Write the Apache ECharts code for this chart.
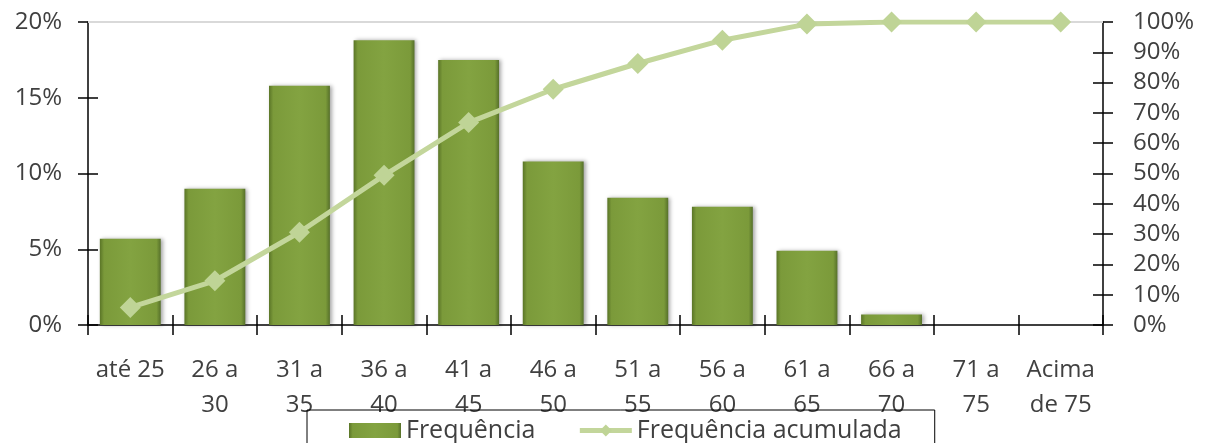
<!DOCTYPE html>
<html>
<head>
<meta charset="utf-8">
<script src="https://cdn.jsdelivr.net/npm/echarts@6/dist/echarts.min.js"></script>
<style>
html,body{margin:0;padding:0;background:#fff;}
#chart{width:1209px;height:443px;}
</style>
</head>
<body>
<div id="chart"></div>
<script>
const categories = ['até 25','26 a\n30','31 a\n35','36 a\n40','41 a\n45','46 a\n50','51 a\n55','56 a\n60','61 a\n65','66 a\n70','71 a\n75','Acima\nde 75'];
const frequencia = [5.7, 9.0, 15.8, 18.8, 17.5, 10.8, 8.4, 7.8, 4.9, 0.7, 0, 0];
const acumulada = [5.8, 14.6, 30.6, 49.4, 66.8, 77.8, 86.3, 94.0, 99.3, 100, 100, 100];
const leftTicks = {min: 0, max: 20, interval: 5};
const rightTicks = {min: 0, max: 100, interval: 10};

const FONT = '"Open Sans", "Noto Sans", sans-serif';
const TXT = '#404040';
const chart = echarts.init(document.getElementById('chart'), null, {renderer: 'canvas'});

const barGrad = new echarts.graphic.LinearGradient(0, 0, 1, 0, [
  {offset: 0, color: '#5a7527'},
  {offset: 0.07, color: '#7b9a3a'},
  {offset: 0.5, color: '#83a341'},
  {offset: 0.93, color: '#7b9a3a'},
  {offset: 1, color: '#56702a'}
]);

const axisLine = {show: true, lineStyle: {color: '#000', width: 1.5}};
chart.setOption({
  animation: false,
  backgroundColor: '#fff',
  grid: {left: 88, right: 106, top: 22, bottom: 118, containLabel: false},
  legend: {
    left: 307, top: 410,
    padding: [8, 33, 20, 42],
    borderColor: '#000', borderWidth: 1,
    itemWidth: 52, itemHeight: 15, itemGap: 42,
    textStyle: {fontFamily: FONT, fontSize: 25, color: TXT, lineHeight: 24},
    data: [
      {name: 'Frequência', icon: 'rect'},
      {name: 'Frequência acumulada', lineStyle: {width: 5, color: '#c3d69b'}}
    ]
  },
  xAxis: [{
    type: 'category', position: 'bottom', data: categories,
    axisLine: axisLine,
    axisTick: {show: true, length: 10, inside: false, lineStyle: {color: '#000', width: 1.5}},
    axisLabel: {fontFamily: FONT, fontSize: 24, color: TXT, lineHeight: 35, margin: 28, interval: 0}
  }, {
    type: 'category', position: 'bottom', data: categories,
    axisLine: {show: false},
    axisTick: {show: true, length: 10, inside: true, lineStyle: {color: '#000', width: 1.5}},
    axisLabel: {show: false}
  }],
  yAxis: [{
    type: 'value', position: 'left', min: leftTicks.min, max: leftTicks.max, interval: leftTicks.interval,
    axisLine: axisLine,
    axisTick: {show: true, length: 10, lineStyle: {color: '#000', width: 1.5}},
    splitLine: {show: false},
    axisLabel: {fontFamily: FONT, fontSize: 24, color: TXT, margin: 26, formatter: '{value}%'}
  }, {
    type: 'value', position: 'right', min: rightTicks.min, max: rightTicks.max, interval: rightTicks.interval,
    axisLine: axisLine,
    axisTick: {show: true, length: 10, lineStyle: {color: '#000', width: 1.5}},
    splitLine: {show: false},
    axisLabel: {fontFamily: FONT, fontSize: 24, color: TXT, margin: 30, formatter: '{value}%'}
  }, {
    type: 'value', position: 'left', min: leftTicks.min, max: leftTicks.max, interval: leftTicks.interval,
    axisLine: {show: false},
    axisTick: {show: true, inside: true, length: 10, lineStyle: {color: '#000', width: 1.5}},
    splitLine: {show: false}, axisLabel: {show: false}
  }, {
    type: 'value', position: 'right', min: rightTicks.min, max: rightTicks.max, interval: rightTicks.interval,
    axisLine: {show: false},
    axisTick: {show: true, inside: true, length: 10, lineStyle: {color: '#000', width: 1.5}},
    splitLine: {show: false}, axisLabel: {show: false}
  }],
  series: [{
    name: 'Frequência', type: 'bar', xAxisIndex: 0, yAxisIndex: 0,
    data: frequencia, barCategoryGap: '28%',
    itemStyle: {color: barGrad, borderWidth: 0,
      shadowColor: 'rgba(0,0,0,0.35)', shadowBlur: 4, shadowOffsetX: 2, shadowOffsetY: 0},
    markLine: {
      silent: true, symbol: 'none', label: {show: false},
      lineStyle: {color: '#d9d9d9', width: 2, type: 'solid'},
      data: [{yAxis: leftTicks.max}]
    }
  }, {
    name: 'Frequência acumulada', type: 'line', xAxisIndex: 0, yAxisIndex: 1,
    data: acumulada, symbol: 'diamond', symbolSize: 21,
    lineStyle: {color: '#c3d69b', width: 5},
    itemStyle: {color: '#bfd496'},
    z: 5
  }]
});
</script>
</body>
</html>
